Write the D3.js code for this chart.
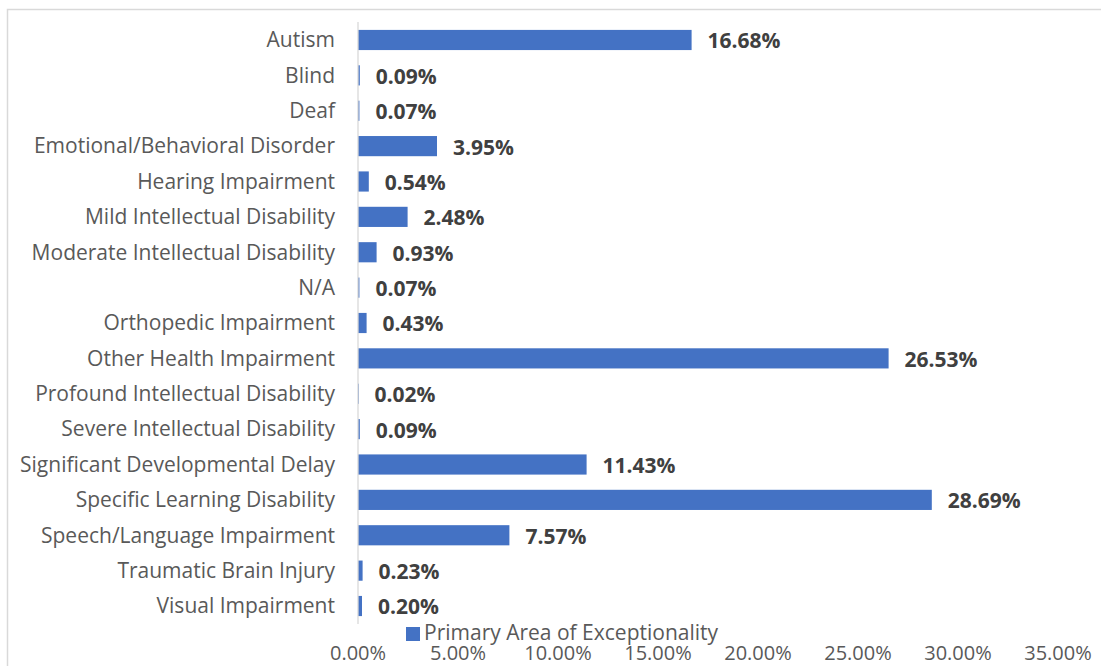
<!DOCTYPE html>
<html lang="en">
<head>
<meta charset="UTF-8">
<title>Primary Area of Exceptionality</title>
<script src="https://cdn.jsdelivr.net/npm/d3@7"></script>
<style>
  * { margin: 0; padding: 0; }
  body { background: #fff; width: 1101px; height: 666px; overflow: hidden; }
  text { font-family: "Open Sans", "Noto Sans", sans-serif; }
</style>
</head>
<body>
<div id="chart"></div>
<script>
const categories = [
  "Autism", "Blind", "Deaf", "Emotional/Behavioral Disorder", "Hearing Impairment",
  "Mild Intellectual Disability", "Moderate Intellectual Disability", "N/A",
  "Orthopedic Impairment", "Other Health Impairment", "Profound Intellectual Disability",
  "Severe Intellectual Disability", "Significant Developmental Delay",
  "Specific Learning Disability", "Speech/Language Impairment",
  "Traumatic Brain Injury", "Visual Impairment"
];
const values = [16.68, 0.09, 0.07, 3.95, 0.54, 2.48, 0.93, 0.07, 0.43, 26.53, 0.02, 0.09, 11.43, 28.69, 7.57, 0.23, 0.20];
const ticks = [0, 5, 10, 15, 20, 25, 30, 35];
const seriesName = "Primary Area of Exceptionality";

const W = 1101, H = 666;
const blue = "#4472c4", grey = "#595959";

const svg = d3.select("#chart").append("svg")
  .attr("width", W).attr("height", H);

// chart frame (clipped at right and bottom)
svg.append("rect")
  .attr("x", 7.5).attr("y", 9.5)
  .attr("width", 1200).attr("height", 800)
  .attr("fill", "none").attr("stroke", "#d9d9d9").attr("stroke-width", 1.5);

const x = d3.scaleLinear().domain([0, 35]).range([358, 1058]);
const y = d3.scaleBand().domain(categories).range([22.3, 623.7]).paddingInner(0.43).paddingOuter(0.215);

const data = categories.map((c, i) => ({ cat: c, val: values[i] }));

// bars
svg.selectAll("rect.bar").data(data).enter().append("rect")
  .attr("class", "bar")
  .attr("x", x(0))
  .attr("y", d => y(d.cat))
  .attr("width", d => Math.max(x(d.val) - x(0), 0.8))
  .attr("height", y.bandwidth())
  .attr("fill", blue);

// vertical axis line
svg.append("line")
  .attr("x1", x(0)).attr("x2", x(0))
  .attr("y1", 22).attr("y2", 624)
  .attr("stroke", "#d9d9d9").attr("stroke-width", 1.3);

// category labels
svg.selectAll("text.cat").data(data).enter().append("text")
  .attr("class", "cat")
  .attr("x", 335)
  .attr("y", d => y(d.cat) + y.bandwidth() / 2)
  .attr("dy", "0.35em")
  .attr("text-anchor", "end")
  .attr("font-size", 21)
  .attr("fill", grey)
  .text(d => d.cat);

// value labels
svg.selectAll("text.val").data(data).enter().append("text")
  .attr("class", "val")
  .attr("x", d => x(d.val) + 16)
  .attr("y", d => y(d.cat) + y.bandwidth() / 2)
  .attr("dy", "0.4em")
  .attr("font-size", 21)
  .attr("font-weight", "bold")
  .attr("fill", "#404040")
  .text(d => d.val.toFixed(2) + "%");

// legend
svg.append("rect")
  .attr("x", 406).attr("y", 627).attr("width", 14).attr("height", 14)
  .attr("fill", blue);
svg.append("text")
  .attr("x", 424).attr("y", 640)
  .attr("font-size", 21).attr("fill", grey)
  .text(seriesName);

// x tick labels
svg.selectAll("text.tick").data(ticks).enter().append("text")
  .attr("class", "tick")
  .attr("x", d => x(d))
  .attr("y", 660)
  .attr("text-anchor", "middle")
  .attr("font-size", 20)
  .attr("fill", grey)
  .text(d => d.toFixed(2) + "%");
</script>
</body>
</html>
